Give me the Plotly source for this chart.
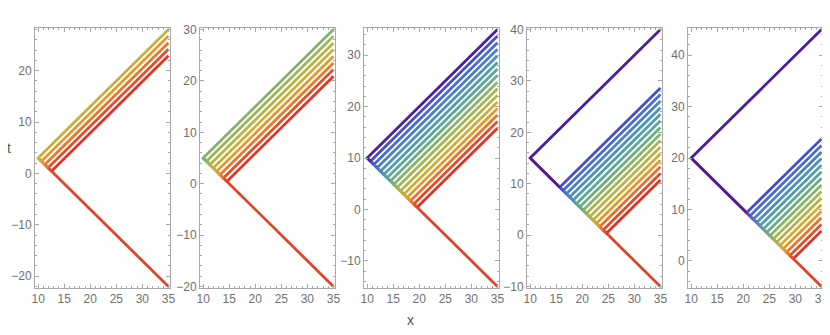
import plotly.graph_objects as go
from plotly.colors import sample_colorscale

# reflection times per panel (first entry = vertex time at x = 10)
x_left = 10
x_right = 35
p1_t = [3.0, 2.36, 1.72, 1.08, 0.44]
p2_t = [5.0, 4.35, 3.7, 3.05, 2.4, 1.75, 1.1, 0.45]
p3_t = [10.0, 9.36, 8.72, 8.08, 7.44, 6.8, 6.16, 5.52, 4.88, 4.24, 3.6, 2.96, 2.32, 1.68, 1.04, 0.4]
p4_t = [15.0, 9.32, 8.68, 8.04, 7.4, 6.76, 6.12, 5.48, 4.84, 4.2, 3.56, 2.92, 2.28, 1.64, 1.0, 0.36]
p5_t = [20.0, 9.36, 8.72, 8.08, 7.44, 6.8, 6.16, 5.52, 4.88, 4.24, 3.6, 2.96, 2.32, 1.68, 1.04, 0.4]
panels = [p1_t, p2_t, p3_t, p4_t, p5_t]

y_ranges = [[-22.3, 28.3], [-20.3, 30.3], [-15.3, 35.3], [-10.3, 40.3], [-5.3, 45.3]]
y_ticks = [[-20, -10, 0, 10, 20], [-20, -10, 0, 10, 20, 30], [-10, 0, 10, 20, 30],
           [-10, 0, 10, 20, 30, 40], [0, 10, 20, 30, 40]]
x_ticks = [10, 15, 20, 25, 30, 35]

# page has an 8px body margin, so work in figure pixels
off = 8
W, H = 830 - off, 335 - off
px_left = [35, 200, 364, 527, 688]
px_w = 135
top_px, bot_px = 28, 288

rainbow = [[0.0, "#e02323"], [0.1, "#e24a2c"], [0.17, "#e8762f"], [0.23, "#e6982f"],
           [0.3, "#c9b03e"], [0.38, "#b4b64a"], [0.46, "#94b85a"], [0.53, "#72b07a"],
           [0.62, "#5aa898"], [0.7, "#4d9bb0"], [0.8, "#4a82c8"], [0.9, "#4263d6"],
           [0.96, "#4640c0"], [1.0, "#4a1ea3"]]
bottom_col = "#e0452a"
lw = 2.8


def col(t):
    v = min(max(t / 10.0, 0.0), 1.0)
    return sample_colorscale(rainbow, [v])[0]


fig = go.Figure()
for i, ts in enumerate(panels):
    xa = "x" if i == 0 else "x%d" % (i + 1)
    ya = "y" if i == 0 else "y%d" % (i + 1)
    T = ts[0]
    # incoming line to the bottom right
    fig.add_trace(go.Scatter(x=[x_left, x_right], y=[T, T - (x_right - x_left)], mode="lines",
                             line=dict(color=bottom_col, width=lw), xaxis=xa, yaxis=ya,
                             showlegend=False, hoverinfo="skip"))
    order = sorted(ts)
    for k, t in enumerate(order):
        xs = x_left + (T - t)
        tend = t + (x_right - xs)
        xx, yy = [xs, x_right], [t, tend]
        if k > 0:
            lo = order[k - 1]
            xx = [x_left + (T - lo)] + xx
            yy = [lo] + yy
        fig.add_trace(go.Scatter(x=xx, y=yy, mode="lines", line=dict(color=col(t), width=lw),
                                 xaxis=xa, yaxis=ya, showlegend=False, hoverinfo="skip"))

axis_common = dict(showline=True, linecolor="#a8a8a8", linewidth=1, mirror="allticks",
                   ticks="inside", ticklen=4, tickcolor="#a8a8a8", showgrid=False,
                   zeroline=False, automargin=False,
                   tickfont=dict(family="Liberation Sans", size=12, color="#707070"))

layout = {}
for i in range(5):
    xk = "xaxis" if i == 0 else "xaxis%d" % (i + 1)
    yk = "yaxis" if i == 0 else "yaxis%d" % (i + 1)
    xa = "x" if i == 0 else "x%d" % (i + 1)
    ya = "y" if i == 0 else "y%d" % (i + 1)
    layout[xk] = dict(axis_common, domain=[(px_left[i] - off) / W, (px_left[i] - off + px_w) / W],
                      range=[9.4, 35.3], tickvals=x_ticks, anchor=ya,
                      minor=dict(ticks="inside", dtick=1, ticklen=2, tickcolor="#a8a8a8"))
    layout[yk] = dict(axis_common, domain=[1 - (bot_px - off) / H, 1 - (top_px - off) / H],
                      range=y_ranges[i], tickvals=y_ticks[i], anchor=xa,
                      minor=dict(ticks="inside", dtick=2, ticklen=2, tickcolor="#a8a8a8"))

fig.update_layout(**layout)
fig.update_layout(width=W, height=H, margin=dict(l=0, r=0, t=0, b=0, autoexpand=False),
                  plot_bgcolor="white", paper_bgcolor="white",
                  annotations=[
                      dict(text="t", x=(9 - off) / W, y=1 - (148 - off) / H, xref="paper", yref="paper",
                           xanchor="center", yanchor="middle", showarrow=False,
                           font=dict(family="Liberation Sans", size=14, color="#555555")),
                      dict(text="x", x=(410 - off) / W, y=1 - (320 - off) / H, xref="paper", yref="paper",
                           xanchor="center", yanchor="middle", showarrow=False,
                           font=dict(family="Liberation Sans", size=14, color="#555555")),
                  ])
fig.write_html("out.html")
